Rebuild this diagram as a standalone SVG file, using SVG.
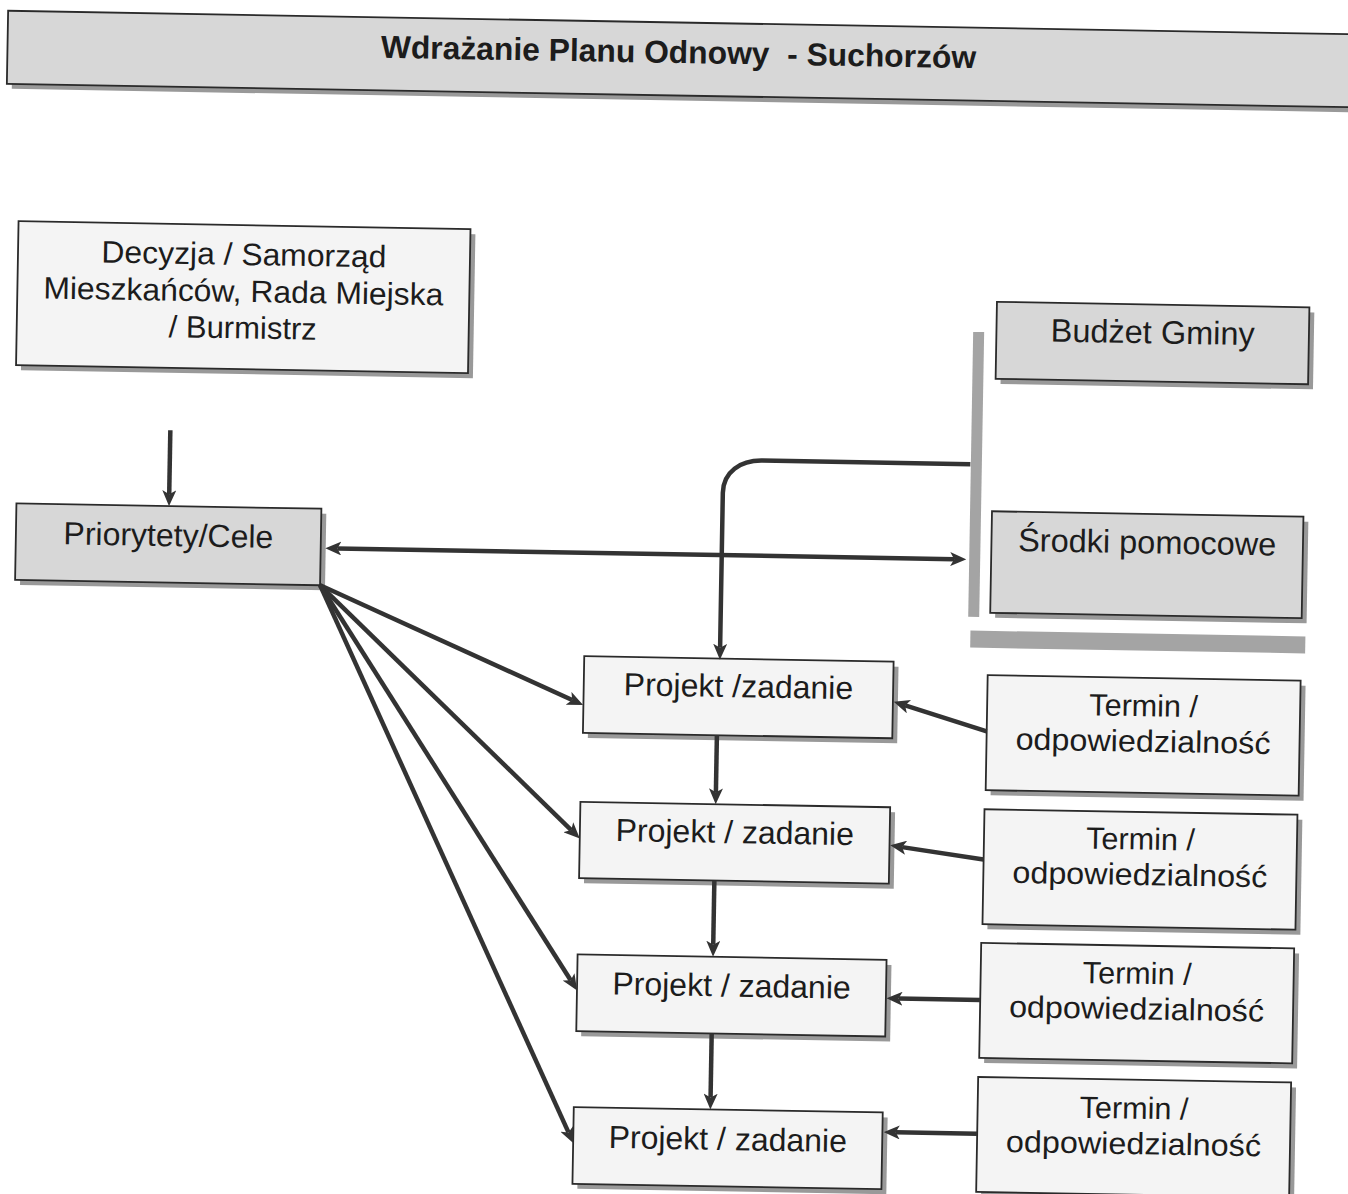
<svg xmlns="http://www.w3.org/2000/svg" width="1348" height="1194" viewBox="0 0 1348 1194">
<defs>
<marker id="ah" markerUnits="userSpaceOnUse" viewBox="0 0 16 14" markerWidth="16" markerHeight="14" refX="4" refY="7" orient="auto-start-reverse">
<path d="M0,0 L16,7 L0,14 L4,7 z" fill="#333"/>
</marker>
</defs>
<style>
.box{stroke:#2a2a2a;stroke-width:1.8}
.w{fill:#f4f4f4}
.g{fill:#d7d7d7}
.sh{fill:#999999}
.t{font-family:"Liberation Sans",Arial,sans-serif;font-size:32px;fill:#1c1c1c;text-anchor:middle}
.tr{font-size:32.5px}
.tm{font-size:30.6px}
.c{fill:none;stroke:#333;stroke-width:4.5}
.a{marker-end:url(#ah)}
.bar{fill:#a4a4a4}
</style>
<rect width="1348" height="1194" fill="#ffffff"/>
<g transform="rotate(1 674 597)">
<g id="title">
<rect class="sh" x="3" y="27.5" width="1400" height="73"/>
<rect class="box g" x="-2" y="22.5" width="1400" height="73"/>
<text class="t" x="669" y="63" style="font-weight:bold;font-size:31.8px" xml:space="preserve">Wdrażanie Planu Odnowy  - Suchorzów</text>
</g>
<g id="decyzja">
<rect class="sh" x="17.1" y="237.7" width="452" height="144"/>
<rect class="box w" x="12.1" y="232.7" width="452" height="144"/>
<text class="t" x="238.1" y="272.5" style="font-size:31px" textLength="285" lengthAdjust="spacingAndGlyphs">Decyzja / Samorząd</text>
<text class="t" x="238.1" y="309.5" style="font-size:31px" textLength="400" lengthAdjust="spacingAndGlyphs">Mieszkańców, Rada Miejska</text>
<text class="t" x="238.1" y="346" style="font-size:31px">/ Burmistrz</text>
</g>
<g id="priorytety">
<rect class="sh" x="19.9" y="519.9" width="305" height="76.5"/>
<rect class="box g" x="14.9" y="514.9" width="305" height="76.5"/>
<text class="t" x="167.4" y="555">Priorytety/Cele</text>
</g>
<g id="budzet">
<rect class="sh" x="996.75" y="301.25" width="312.5" height="77"/>
<rect class="box g" x="991.75" y="296.25" width="312.5" height="77"/>
<text class="t tr" x="1148" y="335">Budżet Gminy</text>
</g>
<g id="srodki">
<rect class="sh" x="995.45" y="510.75" width="311.5" height="101.5"/>
<rect class="box g" x="990.45" y="505.75" width="311.5" height="101.5"/>
<text class="t tr" x="1146.2" y="545.1">Środki pomocowe</text>
</g>
<g id="bracket">
<rect class="bar" x="968.5" y="326.7" width="11" height="285"/>
<rect class="bar" x="971" y="625.4" width="335" height="17"/>
</g>
<g id="projekt1">
<rect class="sh" x="590.3" y="662.75" width="309.4" height="76.7"/>
<rect class="box w" x="585.3" y="657.75" width="309.4" height="76.7"/>
<text class="t" x="740" y="696">Projekt /zadanie</text>
</g>
<g id="projekt2">
<rect class="sh" x="589" y="808.45" width="309.8" height="76.3"/>
<rect class="box w" x="584" y="803.45" width="309.8" height="76.3"/>
<text class="t" x="738.9" y="842">Projekt / zadanie</text>
</g>
<g id="projekt3">
<rect class="sh" x="588.85" y="961.05" width="309" height="76.7"/>
<rect class="box w" x="583.85" y="956.05" width="309" height="76.7"/>
<text class="t" x="738.35" y="995.5">Projekt / zadanie</text>
</g>
<g id="projekt4">
<rect class="sh" x="587.7" y="1113.75" width="309" height="76.7"/>
<rect class="box w" x="582.7" y="1108.75" width="309" height="76.7"/>
<text class="t" x="737.2" y="1149">Projekt / zadanie</text>
</g>
<g id="termin1">
<rect class="sh" x="994" y="674.7" width="313" height="115"/>
<rect class="box w" x="989" y="669.7" width="313" height="115"/>
<text class="t tm" x="1145.5" y="708">Termin /</text>
<text class="t tm" x="1145.5" y="743.5" textLength="255" lengthAdjust="spacingAndGlyphs">odpowiedzialność</text>
</g>
<g id="termin2">
<rect class="sh" x="993.15" y="808.8" width="313" height="115"/>
<rect class="box w" x="988.15" y="803.8" width="313" height="115"/>
<text class="t tm" x="1144.65" y="841.4">Termin /</text>
<text class="t tm" x="1144.65" y="876.9" textLength="255" lengthAdjust="spacingAndGlyphs">odpowiedzialność</text>
</g>
<g id="termin3">
<rect class="sh" x="992.2" y="942.5" width="313" height="115"/>
<rect class="box w" x="987.2" y="937.5" width="313" height="115"/>
<text class="t tm" x="1143.7" y="975.7">Termin /</text>
<text class="t tm" x="1143.7" y="1011.2" textLength="255" lengthAdjust="spacingAndGlyphs">odpowiedzialność</text>
</g>
<g id="termin4">
<rect class="sh" x="991.5" y="1076.6" width="313" height="115"/>
<rect class="box w" x="986.5" y="1071.6" width="313" height="115"/>
<text class="t tm" x="1143" y="1110.5">Termin /</text>
<text class="t tm" x="1143" y="1146" textLength="255" lengthAdjust="spacingAndGlyphs">odpowiedzialność</text>
</g>
<g id="connectors">
<path class="c a" d="M167.5,439 V503"/>
<path class="c a" d="M336.5,554.3 H953.5" style="marker-start:url(#ah)"/>
<path class="c a" d="M968,459 H760 C738,459 721,471 721,492 V647"/>
<path class="c a" d="M719.3,734.5 V791.5"/>
<path class="c a" d="M719.3,880 V944"/>
<path class="c a" d="M719.3,1032.7 V1096.8"/>
<path class="c a" d="M320,591.5 L574,701.7"/>
<path class="c a" d="M320,591.5 L575.3,831.8"/>
<path class="c a" d="M320,591.5 L577.4,982"/>
<path class="c a" d="M320,591.5 L577.85,1134.2"/>
<path class="c a" d="M989,726 L907,701.4"/>
<path class="c a" d="M988,854 L906.4,843.1"/>
<path class="c a" d="M987.2,994.6 L905.5,994.6"/>
<path class="c a" d="M986.5,1128.4 L905,1128.4"/>
</g>
</g>
</svg>
